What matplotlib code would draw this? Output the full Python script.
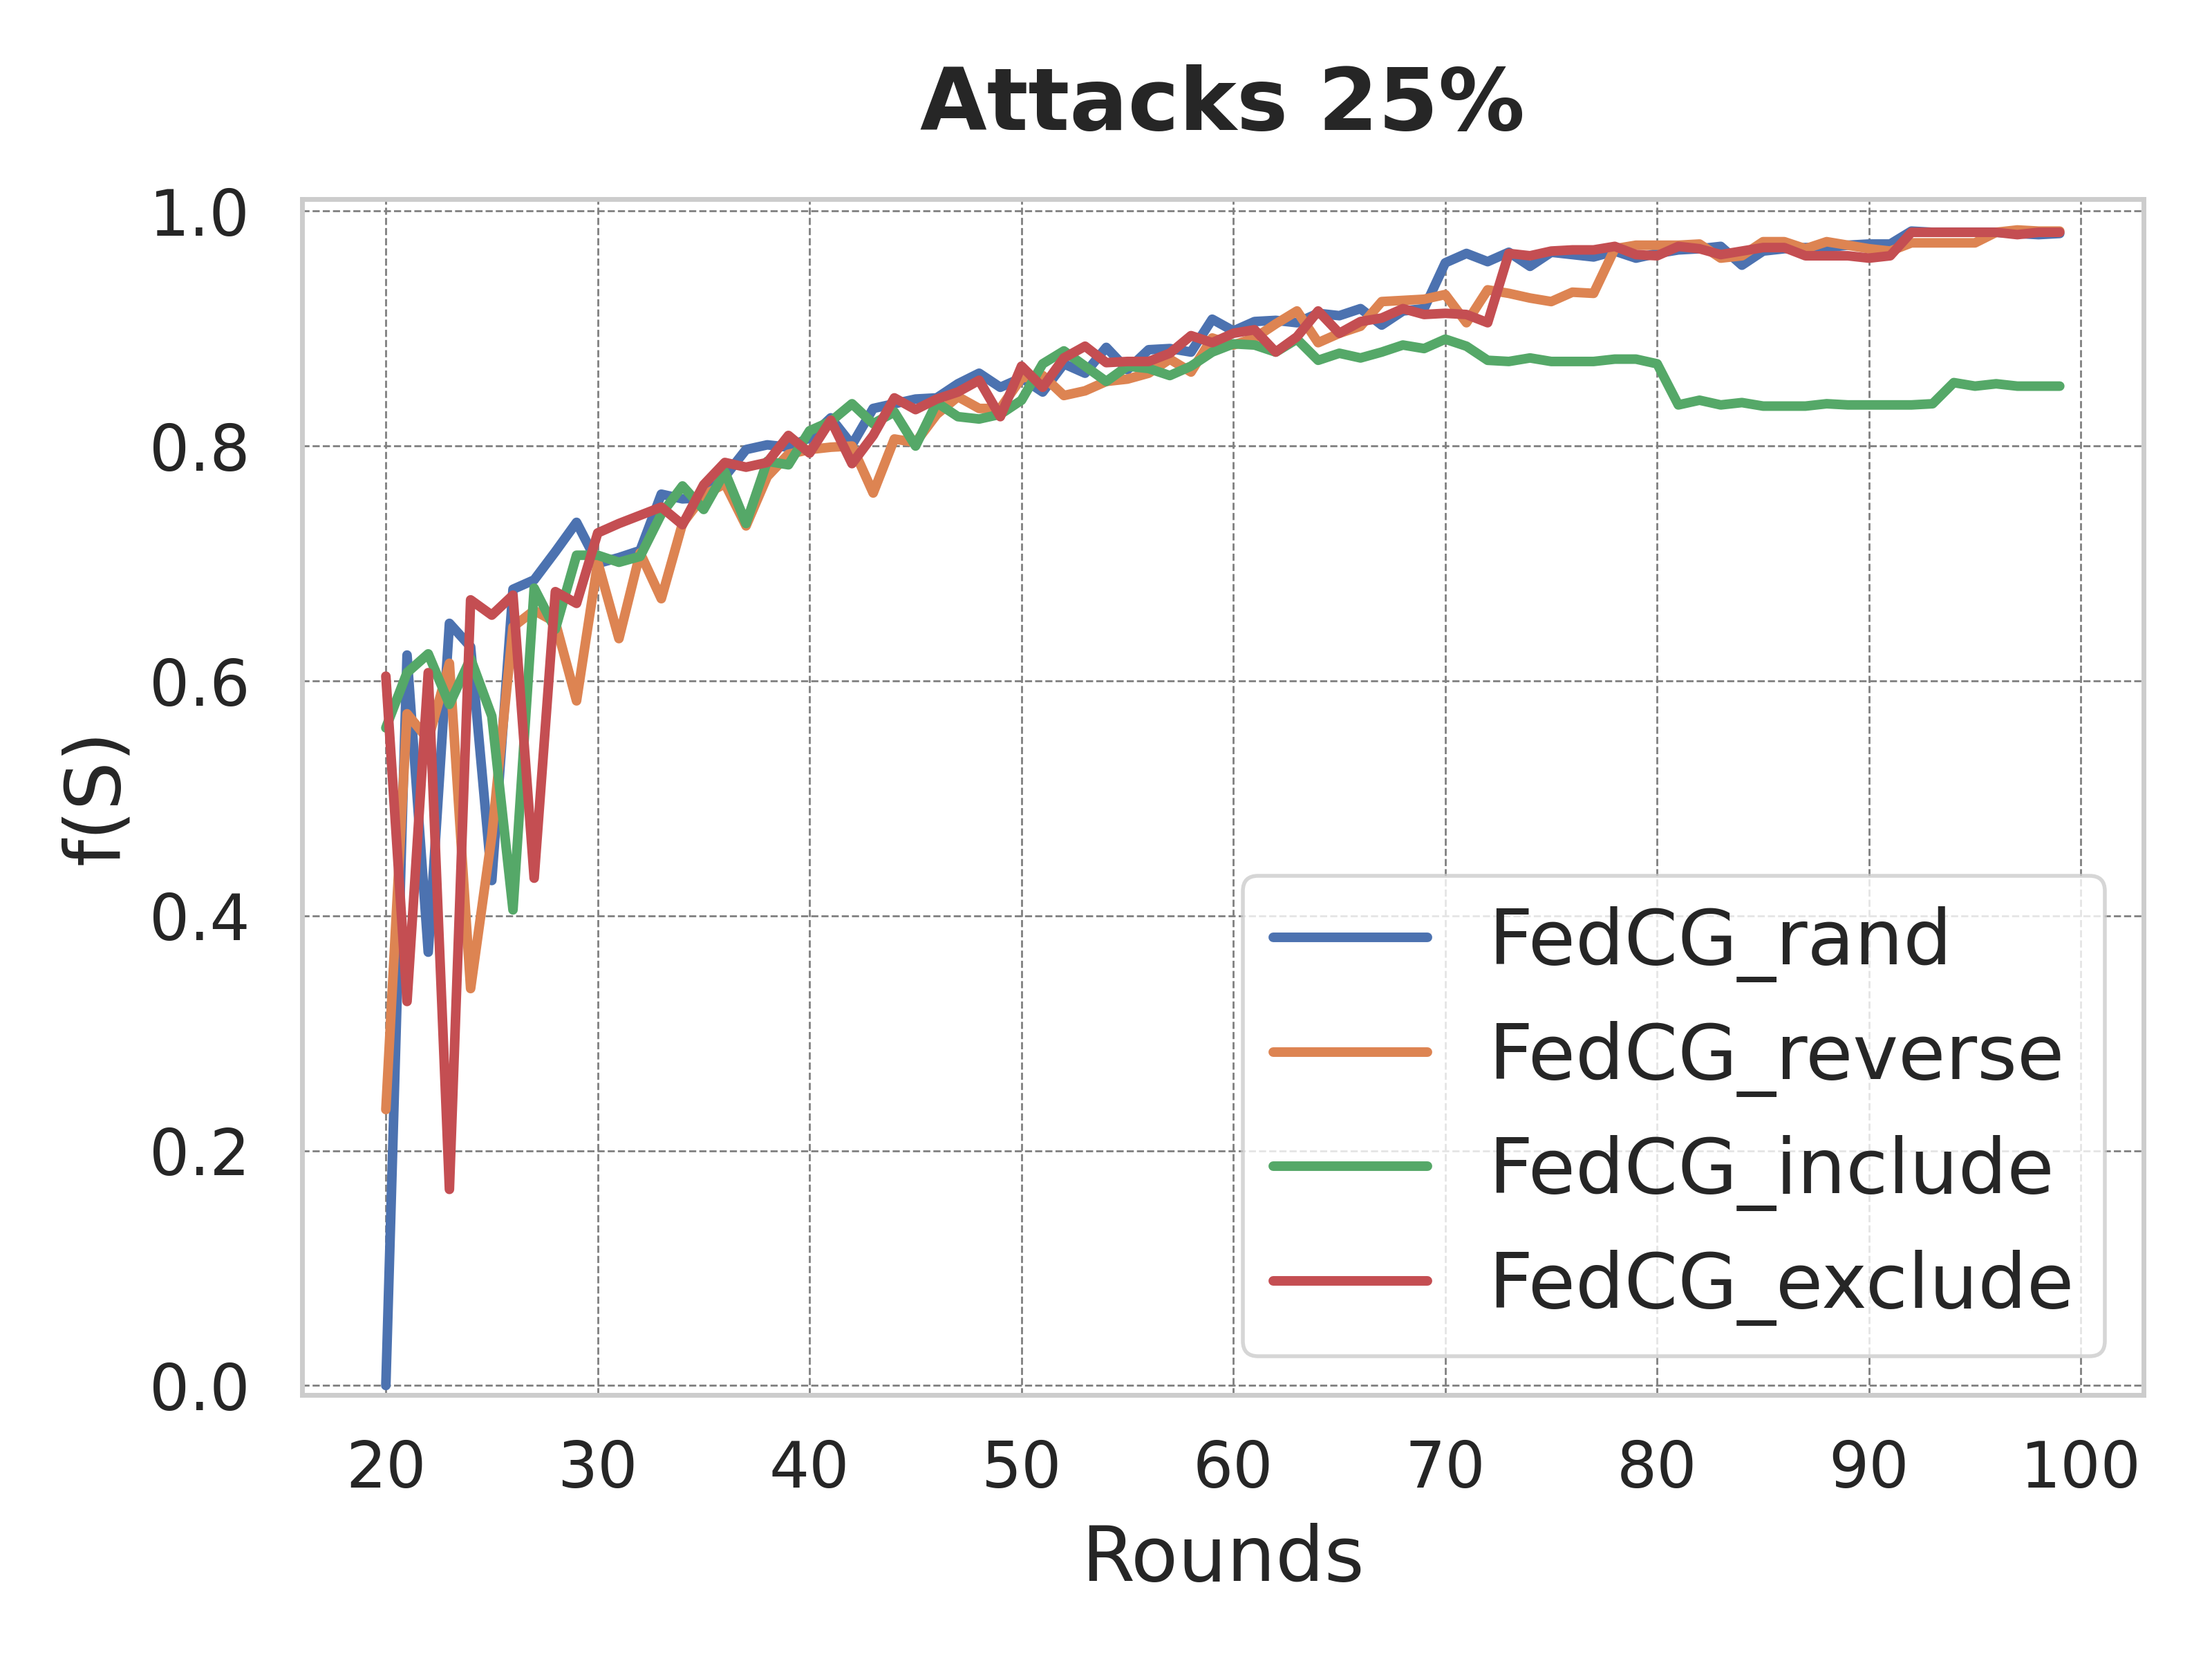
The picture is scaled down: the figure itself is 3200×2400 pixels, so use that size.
import matplotlib
matplotlib.use('Agg')
import matplotlib.pyplot as plt
import seaborn as sns

sns.set_theme(style='whitegrid')
plt.rcParams['font.family'] = ['DejaVu Sans']

rounds = list(range(20, 100))

fedcg_rand = [
    0.000, 0.622, 0.369, 0.649, 0.629, 0.430, 0.678, 0.686, 0.710, 0.735,
    0.700, 0.705, 0.711, 0.759, 0.755, 0.756, 0.774, 0.797, 0.801, 0.799,
    0.807, 0.824, 0.801, 0.832, 0.836, 0.840, 0.841, 0.853, 0.862, 0.850,
    0.858, 0.846, 0.870, 0.862, 0.884, 0.865, 0.882, 0.883, 0.880, 0.908,
    0.898, 0.906, 0.907, 0.905, 0.913, 0.911, 0.917, 0.903, 0.915, 0.917,
    0.956, 0.964, 0.957, 0.965, 0.953, 0.965, 0.963, 0.961, 0.966, 0.960,
    0.964, 0.967, 0.968, 0.970, 0.954, 0.966, 0.968, 0.969, 0.969, 0.971,
    0.972, 0.972, 0.983, 0.982, 0.982, 0.982, 0.982, 0.981, 0.980, 0.981,
]
fedcg_reverse = [
    0.235, 0.572, 0.550, 0.615, 0.338, 0.468, 0.646, 0.660, 0.650, 0.583,
    0.701, 0.636, 0.709, 0.670, 0.734, 0.758, 0.768, 0.732, 0.774, 0.793,
    0.797, 0.799, 0.800, 0.760, 0.806, 0.803, 0.827, 0.842, 0.832, 0.832,
    0.858, 0.860, 0.843, 0.847, 0.855, 0.857, 0.862, 0.874, 0.863, 0.892,
    0.886, 0.892, 0.904, 0.915, 0.888, 0.896, 0.902, 0.923, 0.924, 0.925,
    0.929, 0.905, 0.933, 0.930, 0.926, 0.923, 0.931, 0.930, 0.968, 0.971,
    0.971, 0.971, 0.972, 0.960, 0.962, 0.974, 0.974, 0.968, 0.974, 0.971,
    0.968, 0.966, 0.973, 0.973, 0.973, 0.973, 0.982, 0.984, 0.983, 0.983,
]
fedcg_include = [
    0.560, 0.607, 0.623, 0.580, 0.619, 0.570, 0.405, 0.679, 0.644, 0.707,
    0.707, 0.701, 0.706, 0.742, 0.766, 0.746, 0.778, 0.734, 0.787, 0.784,
    0.813, 0.821, 0.836, 0.819, 0.829, 0.800, 0.837, 0.825, 0.823, 0.827,
    0.839, 0.870, 0.881, 0.868, 0.855, 0.868, 0.866, 0.860, 0.868, 0.880,
    0.887, 0.886, 0.880, 0.891, 0.873, 0.879, 0.875, 0.880, 0.886, 0.883,
    0.891, 0.885, 0.873, 0.872, 0.875, 0.872, 0.872, 0.872, 0.874, 0.874,
    0.870, 0.835, 0.839, 0.835, 0.837, 0.834, 0.834, 0.834, 0.836, 0.835,
    0.835, 0.835, 0.835, 0.836, 0.854, 0.851, 0.853, 0.851, 0.851, 0.851,
]
fedcg_exclude = [
    0.604, 0.327, 0.607, 0.167, 0.669, 0.656, 0.673, 0.432, 0.676, 0.666,
    0.726, 0.734, 0.741, 0.748, 0.733, 0.767, 0.786, 0.782, 0.786, 0.809,
    0.794, 0.822, 0.785, 0.809, 0.841, 0.831, 0.840, 0.846, 0.856, 0.825,
    0.868, 0.850, 0.875, 0.885, 0.871, 0.872, 0.872, 0.879, 0.894, 0.888,
    0.896, 0.899, 0.880, 0.893, 0.915, 0.896, 0.906, 0.909, 0.917, 0.912,
    0.913, 0.912, 0.905, 0.964, 0.962, 0.966, 0.967, 0.967, 0.970, 0.963,
    0.962, 0.970, 0.968, 0.963, 0.966, 0.969, 0.969, 0.962, 0.962, 0.962,
    0.960, 0.962, 0.982, 0.982, 0.982, 0.982, 0.982, 0.980, 0.982, 0.982,
]

series = [
    ('FedCG_rand', fedcg_rand),
    ('FedCG_reverse', fedcg_reverse),
    ('FedCG_include', fedcg_include),
    ('FedCG_exclude', fedcg_exclude),
]
colors = sns.color_palette('deep')

fig, ax = plt.subplots(figsize=(8, 6), dpi=400)
fig.subplots_adjust(left=0.1366, right=0.969, top=0.8798, bottom=0.1592)

for i, (name, vals) in enumerate(series):
    ax.plot(rounds, vals, color=colors[i], linewidth=2.5, label=name)

ax.set_ylim(-0.008, 1.01)
ax.grid(True, linestyle='--', color='gray', linewidth=0.5)
for s in ax.spines.values():
    s.set_color('#cccccc')
    s.set_linewidth(1.25)

ax.tick_params(labelsize=16.5, length=0)
ax.tick_params(axis='x', pad=11.3)
ax.tick_params(axis='y', pad=13.5)
ax.set_xlabel('Rounds', fontsize=20, labelpad=5.8)
ax.set_ylabel('f(S)', fontsize=20)
ax.set_title('Attacks 25%', fontsize=22.5, fontweight='bold', pad=18)
ax.legend(loc='lower right', fontsize=20)

fig.savefig('out.png', dpi=400)
